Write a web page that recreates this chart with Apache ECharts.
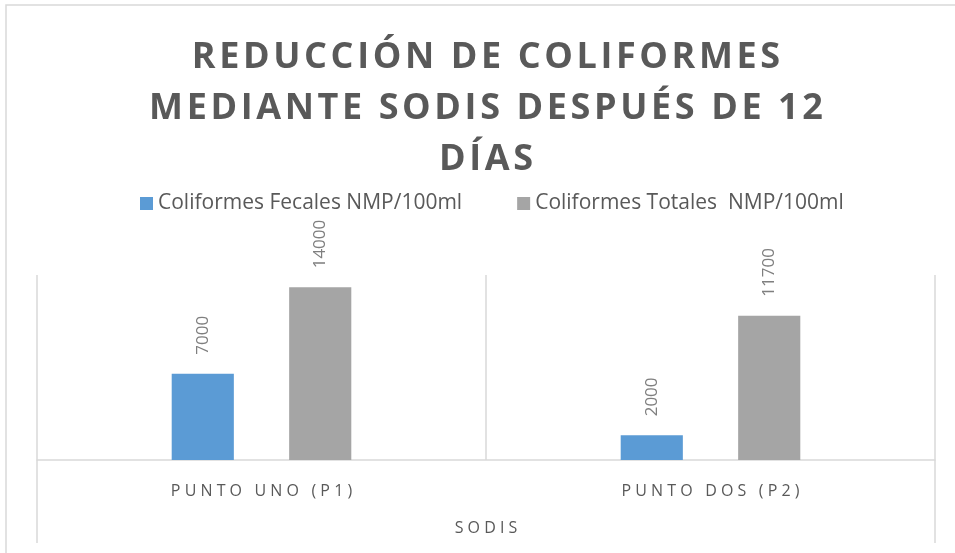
<!DOCTYPE html>
<html>
<head>
<meta charset="utf-8">
<script src="https://cdn.jsdelivr.net/npm/echarts@6/dist/echarts.min.js"></script>
<style>
  html, body { margin: 0; padding: 0; background: #fff; }
  #chart { width: 955px; height: 553px; }
</style>
</head>
<body>
<div id="chart"></div>
<script>
// datos
var categorias = ['PUNTO UNO (P1)', 'PUNTO DOS (P2)'];
var fecales = [7000, 2000];
var totales = [14000, 11700];
var nombreSerie1 = 'Coliformes Fecales NMP/100ml';
var nombreSerie2 = 'Coliformes Totales  NMP/100ml';
var tituloLineas = ['REDUCCIÓN DE COLIFORMES', 'MEDIANTE SODIS DESPUÉS DE 12', 'DÍAS'];

// espaciado entre letras (echarts no tiene letterSpacing)
function espaciar(txt, sep) {
  return txt.split('').join(sep);
}

var gris = '#595959';
var linea = '#d9d9d9';

var myChart = echarts.init(document.getElementById('chart'));

var option = {
  color: ['#5B9BD5', '#A5A5A5'],
  textStyle: { fontFamily: 'Open Sans' },
  title: {
    text: tituloLineas.map(function (l) { return espaciar(l, '\u200A'); }).join('\n'),
    left: 481,
    textAlign: 'center',
    top: 27,
    textStyle: {
      fontSize: 36,
      fontWeight: 'bold',
      color: gris,
      lineHeight: 51,
      fontFamily: 'Open Sans'
    }
  },
  legend: {
    top: 188,
    left: 135,
    itemWidth: 13,
    itemHeight: 13,
    itemGap: 55,
    icon: 'rect',
    textStyle: { fontSize: 21, color: gris },
    data: [nombreSerie1, nombreSerie2]
  },
  graphic: [{
    type: 'rect',
    shape: { x: 6, y: 5, width: 1000, height: 600 },
    style: { fill: 'none', stroke: linea, lineWidth: 1.5 },
    silent: true
  }],
  grid: { left: 37, right: 20, top: 275, bottom: 93 },
  xAxis: [{
    type: 'category',
    data: categorias,
    axisLine: { lineStyle: { color: linea, width: 1.5 } },
    axisTick: { show: false },
    splitLine: { show: true, interval: 0, lineStyle: { color: linea, width: 1.5 } },
    axisLabel: {
      margin: 23,
      fontSize: 16,
      color: gris,
      formatter: function (v) { return espaciar(v, ' '); }
    }
  }, {
    type: 'category',
    position: 'bottom',
    data: ['SODIS'],
    axisLine: { show: false },
    axisTick: { show: true, length: 83, lineStyle: { color: linea, width: 1.5 } },
    axisLabel: {
      margin: 60,
      fontSize: 16,
      color: gris,
      formatter: function (v) { return espaciar(v, ' '); }
    }
  }],
  yAxis: {
    type: 'value',
    min: 0,
    max: 15000,
    show: false
  },
  series: [{
    name: nombreSerie1,
    type: 'bar',
    data: fecales,
    barGap: '89%',
    barCategoryGap: '60%',
    label: {
      show: true,
      position: 'top',
      rotate: 90,
      align: 'left',
      verticalAlign: 'middle',
      distance: 19,
      fontSize: 17,
      color: '#7f7f7f'
    }
  }, {
    name: nombreSerie2,
    type: 'bar',
    data: totales,
    barGap: '89%',
    barCategoryGap: '60%',
    label: {
      show: true,
      position: 'top',
      rotate: 90,
      align: 'left',
      verticalAlign: 'middle',
      distance: 19,
      fontSize: 17,
      color: '#7f7f7f'
    }
  }]
};

myChart.setOption(option);
</script>
</body>
</html>
